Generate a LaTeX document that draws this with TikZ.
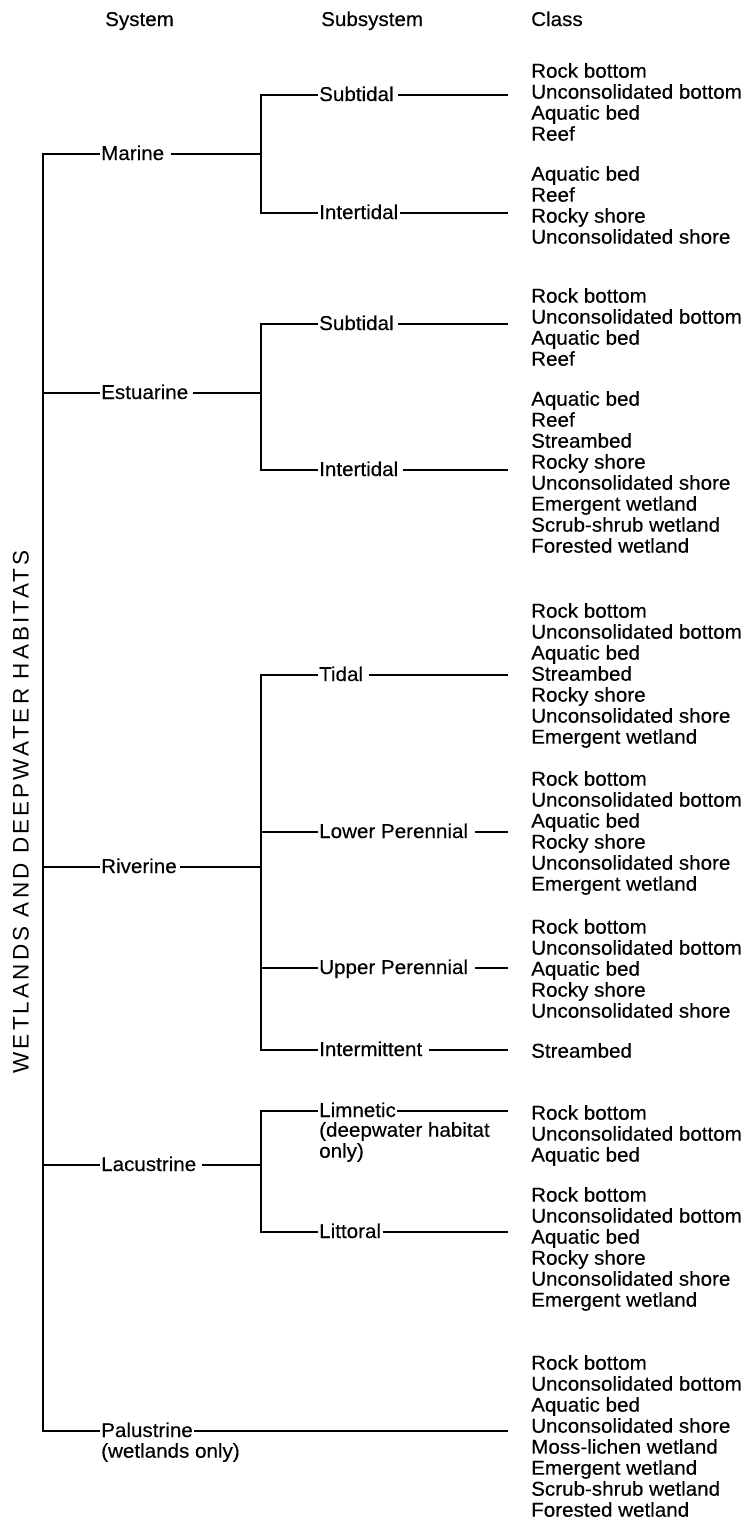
\documentclass[tikz,border=0pt]{standalone}
\usepackage{fontspec}
\setmainfont{Liberation Sans}[FakeStretch=1.03,FakeBold=0.3]
\newfontfamily\vfont{Liberation Sans}[LetterSpace=14]
\begin{document}
\begin{tikzpicture}[x=1pt,y=-1pt,
  txt/.style={font=\fontsize{20}{21}\selectfont},
  lab/.style={txt,anchor=west,inner xsep=2pt,inner ysep=0pt,text height=14pt,text depth=2pt},
  hdr/.style={lab},
  cls/.style={txt,anchor=north west,inner sep=0pt,align=left},
  note/.style={txt,anchor=north west,inner sep=0pt,align=left},
  ln/.style={line width=1.3pt,line cap=rect}]
\useasboundingbox (0,0) rectangle (753,1519);

% headers
\node[hdr] (hsys) at (103,20) {System};
\node[hdr] (hsub) at (319,20) {Subsystem};
\node[hdr] (hcls) at (529,20) {Class};

% vertical title
\node[rotate=90,inner sep=0pt,font=\vfont\fontsize{22.5}{26}\selectfont] (vt) at (21,812) {WETLANDS AND DEEPWATER HABITATS};

% trunk and branch rails
\coordinate (tTop) at (43,154);
\coordinate (tBot) at (43,1431);
\coordinate (br) at (261,0);
\coordinate (rail) at (507,0);

% systems
\node[lab] (mar) at (99,154) {Marine};
\node[lab] (est) at (99,393) {Estuarine};
\node[lab] (riv) at (99,867) {Riverine};
\node[lab] (lac) at (99,1165) {Lacustrine};
\node[lab] (pal) at (99,1431) {Palustrine};
\node[note] (palx) at (101,1443) {(wetlands only)};

% subsystems
\node[lab] (mSub) at (317,95) {Subtidal};
\node[lab] (mInt) at (317,213) {Intertidal};
\node[lab] (eSub) at (317,324) {Subtidal};
\node[lab] (eInt) at (317,470) {Intertidal};
\node[lab] (rTid) at (317,675) {Tidal};
\node[lab] (rLow) at (317,832) {Lower Perennial};
\node[lab] (rUpp) at (317,968) {Upper Perennial};
\node[lab] (rInt) at (317,1050) {Intermittent};
\node[lab] (lLim) at (317,1111) {Limnetic};
\node[note] (lLimx) at (319,1122) {(deepwater habitat\\only)};
\node[lab] (lLit) at (317,1232) {Littoral};

% classes
\node[cls] (mSubC) at (531,63) {Rock bottom\\Unconsolidated bottom\\Aquatic bed\\Reef};
\node[cls] (mIntC) at (531,166) {Aquatic bed\\Reef\\Rocky shore\\Unconsolidated shore};
\node[cls] (eSubC) at (531,288) {Rock bottom\\Unconsolidated bottom\\Aquatic bed\\Reef};
\node[cls] (eIntC) at (531,391) {Aquatic bed\\Reef\\Streambed\\Rocky shore\\Unconsolidated shore\\Emergent wetland\\Scrub-shrub wetland\\Forested wetland};
\node[cls] (rTidC) at (531,603) {Rock bottom\\Unconsolidated bottom\\Aquatic bed\\Streambed\\Rocky shore\\Unconsolidated shore\\Emergent wetland};
\node[cls] (rLowC) at (531,771) {Rock bottom\\Unconsolidated bottom\\Aquatic bed\\Rocky shore\\Unconsolidated shore\\Emergent wetland};
\node[cls] (rUppC) at (531,919) {Rock bottom\\Unconsolidated bottom\\Aquatic bed\\Rocky shore\\Unconsolidated shore};
\node[cls] (rIntC) at (531,1043) {Streambed};
\node[cls] (lLimC) at (531,1105) {Rock bottom\\Unconsolidated bottom\\Aquatic bed};
\node[cls] (lLitC) at (531,1187) {Rock bottom\\Unconsolidated bottom\\Aquatic bed\\Rocky shore\\Unconsolidated shore\\Emergent wetland};
\node[cls] (pC) at (531,1355) {Rock bottom\\Unconsolidated bottom\\Aquatic bed\\Unconsolidated shore\\Moss-lichen wetland\\Emergent wetland\\Scrub-shrub wetland\\Forested wetland};

% trunk
\draw[ln] (mar.west) -- (tTop) -- (tBot) -- (pal.west);
\draw[ln] (est.west) -- (est.west -| tTop);
\draw[ln] (riv.west) -- (riv.west -| tTop);
\draw[ln] (lac.west) -- (lac.west -| tTop);

% system to bracket
\draw[ln] ([xshift=5pt]mar.east) -- (mar.east -| br);
\draw[ln] ([xshift=3pt]est.east) -- (est.east -| br);
\draw[ln] ([xshift=2pt]riv.east) -- (riv.east -| br);
\draw[ln] ([xshift=4pt]lac.east) -- (lac.east -| br);
\draw[ln] (pal.east) -- (pal.east -| rail);

% brackets
\draw[ln] (mSub.west) -- (mSub.west -| br) -- (mInt.west -| br) -- (mInt.west);
\draw[ln] (eSub.west) -- (eSub.west -| br) -- (eInt.west -| br) -- (eInt.west);
\draw[ln] (rTid.west) -- (rTid.west -| br) -- (rInt.west -| br) -- (rInt.west);
\draw[ln] (rLow.west) -- (rLow.west -| br);
\draw[ln] (rUpp.west) -- (rUpp.west -| br);
\draw[ln] (lLim.west) -- (lLim.west -| br) -- (lLit.west -| br) -- (lLit.west);

% subsystem to classes
\draw[ln] ([xshift=3pt]mSub.east) -- (mSub.east -| rail);
\draw[ln] (mInt.east) -- (mInt.east -| rail);
\draw[ln] ([xshift=3pt]eSub.east) -- (eSub.east -| rail);
\draw[ln] ([xshift=3pt]eInt.east) -- (eInt.east -| rail);
\draw[ln] ([xshift=4pt]rTid.east) -- (rTid.east -| rail);
\draw[ln] ([xshift=5pt]rLow.east) -- (rLow.east -| rail);
\draw[ln] ([xshift=5pt]rUpp.east) -- (rUpp.east -| rail);
\draw[ln] ([xshift=5pt]rInt.east) -- (rInt.east -| rail);
\draw[ln] (lLim.east) -- (lLim.east -| rail);
\draw[ln] (lLit.east) -- (lLit.east -| rail);
\end{tikzpicture}
\end{document}
